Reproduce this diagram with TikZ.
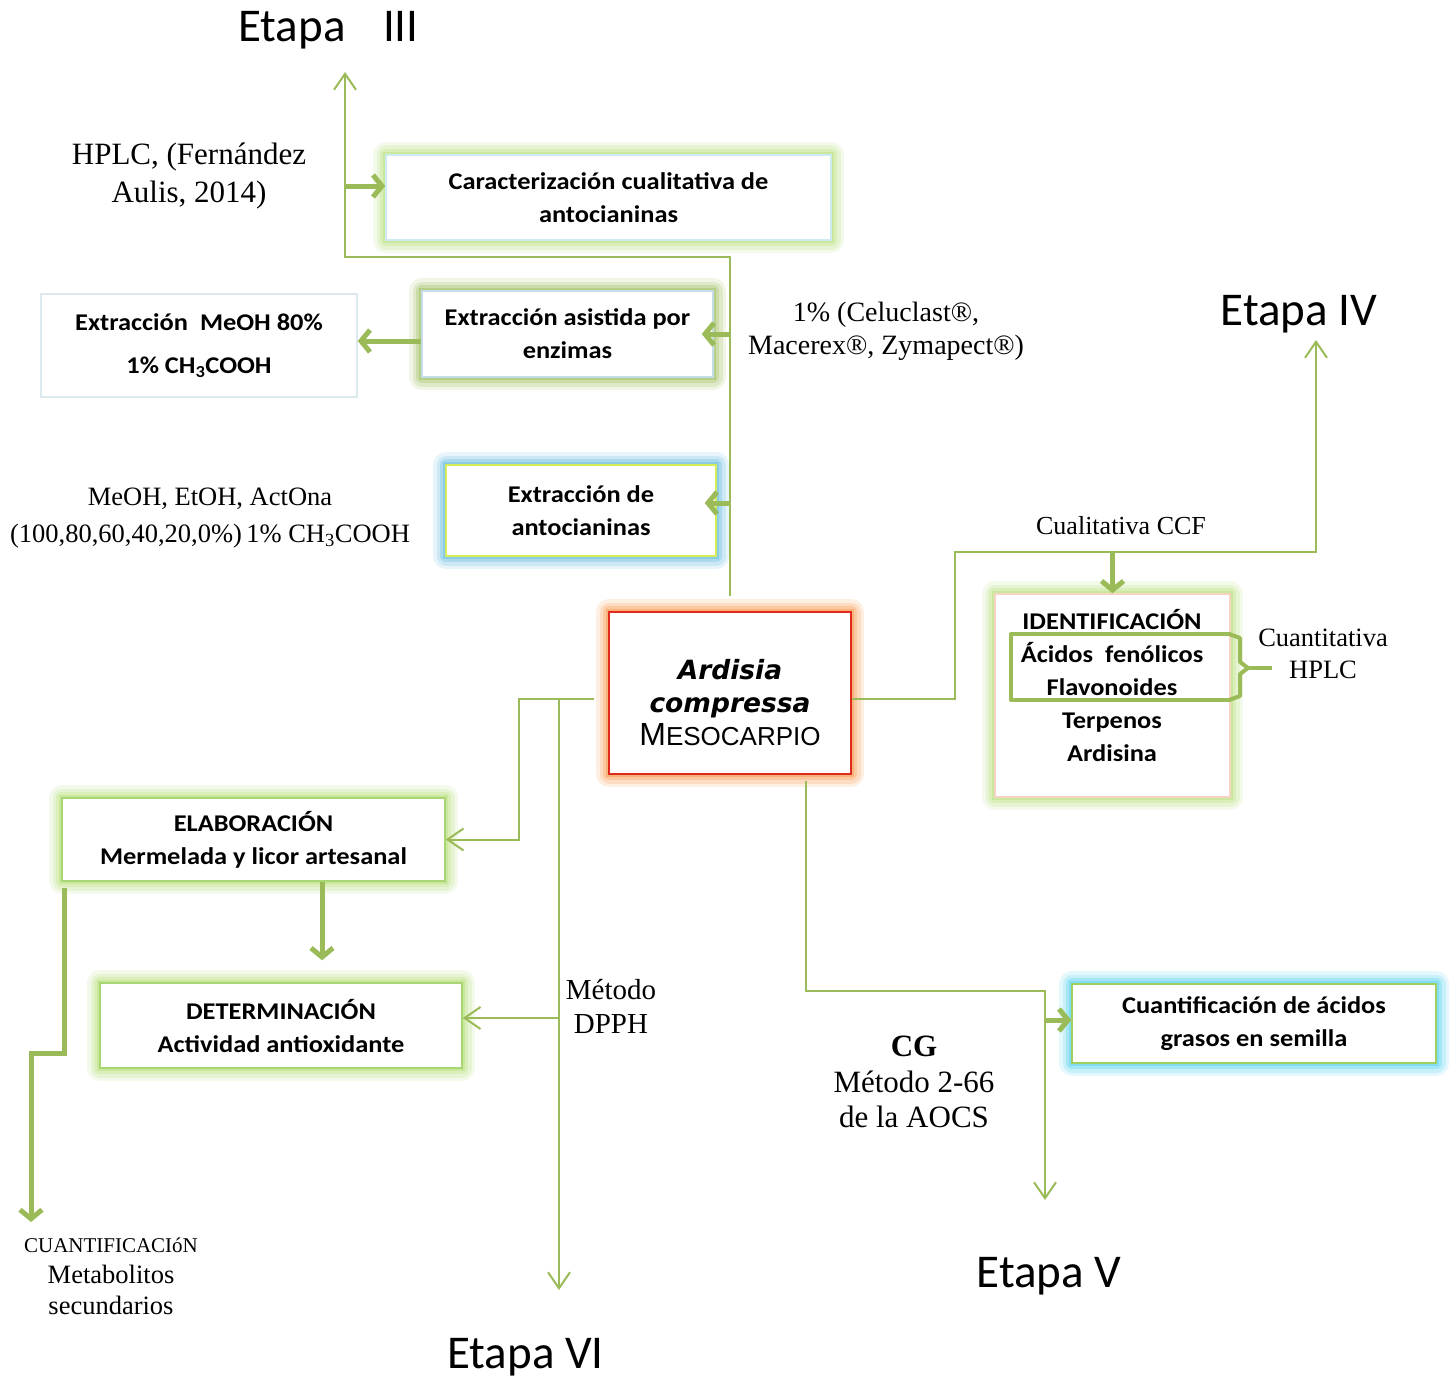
\documentclass[tikz,border=0pt]{standalone}
\usepackage{fontspec}
\setmainfont{Liberation Serif}
\newfontfamily\boxfont[FakeStretch=1.1]{Carlito}
\newfontfamily\etapafont{Carlito}
\newfontfamily\spfont{DejaVu Sans}
\newfontfamily\capfont{Liberation Sans}
\usetikzlibrary{arrows.meta, calc}

\definecolor{lineGreen}{HTML}{9BBB59}
\definecolor{paleGlow}{HTML}{B5DE78}
\definecolor{enzGlow}{HTML}{9BBB59}
\definecolor{antGlow}{HTML}{5DB8DC}
\definecolor{ctrGlow}{HTML}{F79646}
\definecolor{cuaGlow}{HTML}{4FD0F0}
\definecolor{carEdge}{HTML}{CDEBF0}
\definecolor{enzEdge}{HTML}{C5DDE8}
\definecolor{meohEdge}{HTML}{DCE9EE}
\definecolor{antEdge}{HTML}{D4EC5A}
\definecolor{ctrEdge}{HTML}{E02A1E}
\definecolor{ideEdge}{HTML}{F7D3C4}
\definecolor{elaEdge}{HTML}{A8D672}
\definecolor{cuaEdge}{HTML}{9FCF5F}

\tikzset{
  glow/.style={preaction={draw=#1!15!white, line width=26pt, line join=round},
               preaction={draw=#1!32!white, line width=19pt, line join=round},
               preaction={draw=#1!52!white, line width=12pt, line join=round},
               preaction={draw=#1!72!white, line width=6pt}},
}

\begin{document}
\begin{tikzpicture}[x=1pt, y=-1pt]
\tikzstyle{flow}=[draw=lineGreen, line width=2pt, -{Straight Barb[length=16pt,width=22pt]}]
\tikzstyle{bold flow}=[draw=lineGreen, line width=5pt, -{Straight Barb[length=9pt,width=22pt]}]
\tikzstyle{box}=[fill=white, line width=1.5pt, align=center, inner sep=0pt, font=\boxfont\bfseries\fontsize{24}{33}\selectfont]
\tikzstyle{boxtxt}=[align=center, inner sep=0pt, font=\boxfont\bfseries\fontsize{24}{33}\selectfont]
\tikzstyle{note}=[align=center, inner sep=0pt, font=\fontsize{27}{36}\selectfont]
\tikzstyle{etapa}=[anchor=base, inner sep=0pt, font=\etapafont\fontsize{47}{50}\selectfont]

\fill[white] (0,0) rectangle (1456,1378);
\useasboundingbox (0,0) rectangle (1456,1378);

% boxes
\node[box, draw=carEdge, glow=paleGlow, minimum width=445pt, minimum height=85pt] (car) at (608.5,197.5) {Caracterización cualitativa de\\antocianinas};
\node[box, draw=enzEdge, glow=enzGlow, minimum width=291pt, minimum height=86pt] (enz) at (567.5,334) {Extracción asistida por\\enzimas};
\node[box, draw=meohEdge, minimum width=316pt, minimum height=103pt] (meoh) at (199,345.5) {Extracción\ \ MeOH 80\%\\[10pt]1\% CH\textsubscript{3}COOH};
\node[box, draw=antEdge, glow=antGlow, minimum width=270pt, minimum height=91pt] (ant) at (581,510.5) {Extracción de\\antocianinas};
\node[box, draw=ctrEdge, glow=ctrGlow, minimum width=242pt, minimum height=162pt] (ctr) at (730,693) {};
\node[boxtxt] (ctrText) at (730,703)
  {{\spfont\bfseries\itshape\fontsize{26.5}{33}\selectfont Ardisia}\\
   {\spfont\bfseries\itshape\fontsize{26.5}{33}\selectfont compressa}\\
   {\capfont\mdseries\fontsize{32}{34}\selectfont M\fontsize{26}{34}\selectfont ESOCARPIO}};
\node[box, draw=ideEdge, glow=paleGlow, minimum width=235pt, minimum height=203pt] (ide) at (1112.5,695.5) {};
\node[boxtxt] (ideList) at (1112,685.5) {IDENTIFICACIÓN\\Ácidos\ \ fenólicos\\Flavonoides\\Terpenos\\Ardisina};
\node[box, draw=elaEdge, glow=paleGlow, minimum width=383pt, minimum height=83pt] (ela) at (253.5,839.5) {ELABORACIÓN\\Mermelada y licor artesanal};
\node[box, draw=elaEdge, glow=paleGlow, minimum width=362pt, minimum height=85pt] (det) at (281,1025.5) {DETERMINACIÓN\\Actividad antioxidante};
\node[box, draw=cuaEdge, glow=cuaGlow, minimum width=364pt, minimum height=79pt] (cua) at (1254,1023.5) {Cuantificación de ácidos\\grasos en semilla};

% stage titles
\node[etapa] (e3) at (328.5,42) {Etapa\hspace{27pt} III};
\node[etapa] (e4) at (1299,325) {Etapa IV};
\node[etapa] (e5) at (1049,1287) {Etapa V};
\node[etapa] (e6) at (525.5,1368) {Etapa VI};

% method notes
\node[note, font=\fontsize{31}{38}\selectfont] (hplc) at (189,176) {HPLC, (Fernández\\Aulis, 2014)};
\node[note, font=\fontsize{28}{33}\selectfont] (enzNote) at (886,331) {1\% (Celuclast®,\\Macerex®, Zymapect®)};
\node[note, font=\fontsize{26.5}{37}\selectfont] (solv) at (210,518) {MeOH, EtOH, ActOna\\(100,80,60,40,20,0\%)\,1\% CH\textsubscript{3}COOH};
\node[note, font=\fontsize{26}{33}\selectfont] (ccf) at (1121,526) {Cualitativa CCF};
\node[note, font=\fontsize{26.5}{32}\selectfont] (hplcQ) at (1323,654) {Cuantitativa\\HPLC};
\node[note, font=\fontsize{29}{34}\selectfont] (dpph) at (611,1006) {Método\\DPPH};
\node[note, font=\fontsize{31}{35.5}\selectfont] (aocs) at (914,1082) {\textbf{CG}\\Método 2-66\\de la AOCS};
\node[note, font=\fontsize{26.5}{31}\selectfont] (meta) at (111,1276) {{\fontsize{21}{31}\selectfont CUANTIFICACIóN}\\Metabolitos\\secundarios};

% turning points and free arrow ends
\coordinate (t3) at (345,72);
\coordinate (k3) at (345,257);
\coordinate (t4) at (1316,340);
\coordinate (k4) at (955,552);
\coordinate (t5) at (1045,1200);
\coordinate (k5) at (806,991);
\coordinate (t6) at (559,1290);
\coordinate (k6) at (519,699);
\coordinate (tq) at (31,1222);
\coordinate (kq) at (31,1053);

% upper branch (Etapa III)
\draw[flow] ([yshift=15pt]ctr.north) |- (k3) -- (t3);
\draw[bold flow] (k3 |- 0,186) -- (car.west |- 0,186);
\draw[bold flow] (enz.east -| ctr.north) -- ([xshift=-12pt]enz.east);
\draw[bold flow] (enz.west |- 0,341) -- (meoh.east |- 0,341);
\draw[bold flow] (ctr.north |- 0,503) -- ($(ant.east |- 0,503)+(-12,0)$);

% right branch (Etapa IV)
\draw[flow] (ctr.east |- k6) -| (k4) -| (t4);
\draw[bold flow] (ide.north |- k4) -- (ide.north);
\draw[lineGreen, line width=4pt, line join=round] (1231,634) -- (1011,634) -- (1011,700) -- (1231,700);
\draw[lineGreen, line width=4pt, line join=round] (1229,634) -- (1240,638) -- (1240,662) -- (1248,668) -- (1240,674) -- (1240,696) -- (1229,700);
\draw[lineGreen, line width=4pt] (1248,668) -- (1272,668);

% lower right branch (Etapa V)
\draw[flow] ($(ctr.south -| k5)+(0,6)$) -- (k5) -| (t5);
\draw[bold flow] (t5 |- 0,1020) -- (cua.west |- 0,1020);

% left branch (Etapa VI)
\draw[flow] ($(ctr.west |- k6)+(-14,0)$) -- (k6) |- (ela.east);
\draw[flow] (t6 |- k6) -- (t6);
\draw[flow] (t6 |- 0,1018) -- (det.east |- 0,1018);
\draw[bold flow] (ela.south -| 322,0) -- ($(det.north -| 322,0)+(0,-22)$);
\draw[bold flow] ($(ela.south west)+(3,6)$) |- (kq) -- (tq);
\end{tikzpicture}
\end{document}
